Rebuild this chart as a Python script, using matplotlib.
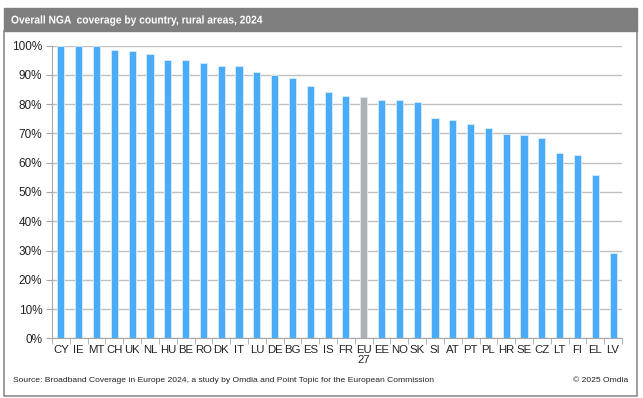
import matplotlib.pyplot as plt
from matplotlib.patches import Rectangle, PathPatch
from matplotlib.textpath import TextPath
from matplotlib.font_manager import FontProperties
from matplotlib.transforms import Affine2D
from matplotlib.ticker import PercentFormatter, FixedLocator

countries = ['CY', 'IE', 'MT', 'CH', 'UK', 'NL', 'HU', 'BE', 'RO', 'DK', 'IT', 'LU',
             'DE', 'BG', 'ES', 'IS', 'FR', 'EU\n27', 'EE', 'NO', 'SK', 'SI', 'AT', 'PT',
             'PL', 'HR', 'SE', 'CZ', 'LT', 'FI', 'EL', 'LV']
coverage = [100.0, 100.0, 100.0, 98.6, 98.2, 97.1, 95.0, 95.0, 94.1, 93.2, 93.1, 90.9,
            89.9, 88.9, 86.3, 84.2, 82.9, 82.4, 81.3, 81.3, 80.7, 75.4, 74.7, 73.1,
            72.0, 69.8, 69.4, 68.4, 63.4, 62.5, 55.9, 29.3]

title = 'Overall NGA  coverage by country, rural areas, 2024'
source = 'Source: Broadband Coverage in Europe 2024, a study by Omdia and Point Topic for the European Commission'

plt.rcParams['font.family'] = ['Liberation Sans', 'DejaVu Sans']

W, H = 643, 398
fig = plt.figure(figsize=(W / 100, H / 100), dpi=100)

# frame and title bar
fig.patches.append(Rectangle((3.5 / W, 1 - 395.5 / H), 633 / W, (395.5 - 31) / H,
                             transform=fig.transFigure, facecolor='white',
                             edgecolor='#8c8c8c', linewidth=1.2, zorder=-5))
fig.patches.append(Rectangle((3.5 / W, 1 - 31 / H), 633 / W, 23.5 / H,
                             transform=fig.transFigure, facecolor='#7f7f7f',
                             edgecolor='#7f7f7f', linewidth=1, zorder=-4))

# title is a narrow font in the original, so squeeze a bold path sideways (pixel coords)
tp = TextPath((0, 0), title, size=11.2, prop=FontProperties(family='Liberation Sans', weight='bold'))
sx = 251 / tp.get_extents().width
fig.patches.append(PathPatch(tp, transform=Affine2D().scale(sx, 1).translate(11, H - 23.5),
                             facecolor='white', edgecolor='none', zorder=-3))

ax = fig.add_axes([52 / W, 1 - 338.3 / H, 570 / W, (338.3 - 45.7) / H])
ax.set_zorder(2)
ax.patch.set_alpha(0)
x = list(range(len(countries)))
colors = ['#b0b0b3' if c.startswith('EU') else '#4aabf6' for c in countries]
ax.bar(x, coverage, width=0.4, color=colors, edgecolor='#d6ecfd', linewidth=0.6, zorder=3)

ax.set_xlim(-0.5, len(countries) - 0.5)
ax.set_ylim(0, 100)
ax.set_yticks(range(0, 101, 10))
ax.yaxis.set_major_formatter(PercentFormatter(decimals=0))
ax.set_xticks(x)
ax.set_xticklabels(countries, fontsize=8.2, color='#222222', linespacing=0.95)
ax.xaxis.set_minor_locator(FixedLocator([i + 0.5 for i in range(-1, len(countries))]))
ax.tick_params(axis='x', which='major', length=0, pad=5)
ax.tick_params(axis='x', which='minor', length=4, color='#a6a6a6')
ax.tick_params(axis='y', length=4, color='#a6a6a6', labelsize=8.5, labelcolor='#222222', pad=3)
ax.grid(axis='y', color='#c0c0c0', linewidth=1, zorder=0)
for s in ['top', 'right']:
    ax.spines[s].set_visible(False)
ax.spines['left'].set_color('#a6a6a6')
ax.spines['bottom'].set_color('#a6a6a6')

fig.text(13 / W, 1 - 381 / H, source, fontsize=6.1, color='#222222', va='center', ha='left')
fig.text(628 / W, 1 - 381 / H, '© 2025 Omdia', fontsize=6.1, color='#222222', va='center', ha='right')

fig.savefig('out.png', dpi=100)
